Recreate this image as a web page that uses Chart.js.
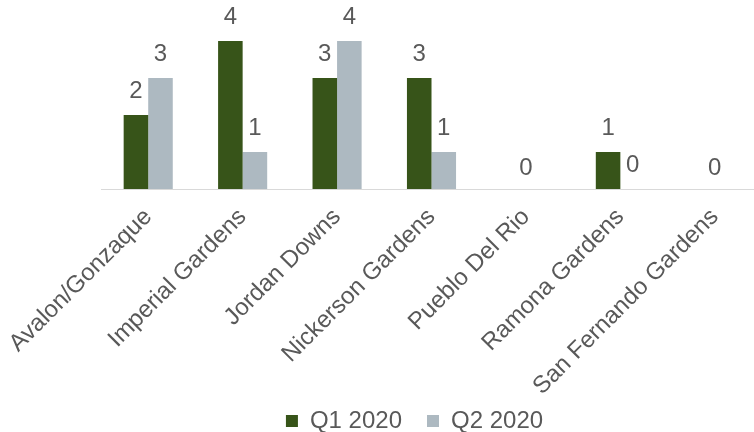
<!DOCTYPE html>
<html>
<head>
<meta charset="utf-8">
<script src="https://cdn.jsdelivr.net/npm/chart.js@4/dist/chart.umd.min.js"></script>
<style>
  html, body { margin: 0; padding: 0; background: #fff; overflow: hidden; }
  #wrap { width: 762px; height: 432px; position: relative; }
</style>
</head>
<body>
<div id="wrap"><canvas id="grafico"></canvas></div>
<script>
// Datos del gráfico
const categorias = ['Avalon/Gonzaque', 'Imperial Gardens', 'Jordan Downs', 'Nickerson Gardens', 'Pueblo Del Rio', 'Ramona Gardens', 'San Fernando Gardens'];
const q1_2020 = [2, 4, 3, 3, 0, 1, 0];
const q2_2020 = [3, 1, 4, 1, 0, 0, 0];
const series = ['Q1 2020', 'Q2 2020'];

const FUENTE = 'Liberation Sans, Arial, sans-serif';
const GRIS_TEXTO = '#595959';

// Etiquetas de valor sobre las barras
const etiquetasValor = {
  id: 'etiquetasValor',
  beforeDraw(chart) {
    // que las etiquetas inclinadas no se recorten con el alto fijo del eje
    chart.scales.x.bottom = chart.height;
    // leyenda algo más a la izquierda, como en el original
    chart.legend.left -= 17;
    chart.legend.right -= 17;
  },
  afterDatasetsDraw(chart) {
    const ctx = chart.ctx;
    const m0 = chart.getDatasetMeta(0);
    const m1 = chart.getDatasetMeta(1);
    ctx.save();
    ctx.font = '24px ' + FUENTE;
    ctx.fillStyle = GRIS_TEXTO;
    ctx.textAlign = 'center';
    ctx.textBaseline = 'middle';
    categorias.forEach((c, i) => {
      const a = q1_2020[i], b = q2_2020[i];
      if (a === 0 && b === 0) {
        const x = chart.scales.x.getPixelForValue(i);
        ctx.fillText('0', x, m0.data[i].y - 21);
        return;
      }
      ctx.fillText(String(a), m0.data[i].x, m0.data[i].y - 24);
      ctx.fillText(String(b), m1.data[i].x, m1.data[i].y - 24);
    });
    ctx.restore();
  }
};

const ctx = document.getElementById('grafico').getContext('2d');
new Chart(ctx, {
  type: 'bar',
  data: {
    labels: categorias,
    datasets: [
      {
        label: series[0],
        data: q1_2020,
        backgroundColor: '#375419',
        barPercentage: 1,
        categoryPercentage: 0.52
      },
      {
        label: series[1],
        data: q2_2020,
        backgroundColor: '#ADB9C1',
        barPercentage: 1,
        categoryPercentage: 0.52
      }
    ]
  },
  options: {
    responsive: true,
    maintainAspectRatio: false,
    animation: false,
    layout: { padding: { top: 41, left: 101, right: 0, bottom: -11 } },
    plugins: {
      legend: {
        position: 'bottom',
        labels: {
          font: { size: 24, family: FUENTE },
          color: GRIS_TEXTO,
          boxWidth: 12,
          boxHeight: 12,
          padding: 25
        }
      },
      tooltip: { enabled: false }
    },
    scales: {
      x: {
        grid: { display: false },
        border: { display: true, color: '#D9D9D9', width: 1 },
        ticks: {
          font: { size: 24, family: FUENTE },
          color: GRIS_TEXTO,
          minRotation: 45,
          maxRotation: 45,
          autoSkip: false,
          padding: 6
        },
        afterFit(scale) { scale.height = 195; }
      },
      y: {
        display: false,
        min: 0,
        max: 4
      }
    }
  },
  plugins: [etiquetasValor]
});
</script>
</body>
</html>
